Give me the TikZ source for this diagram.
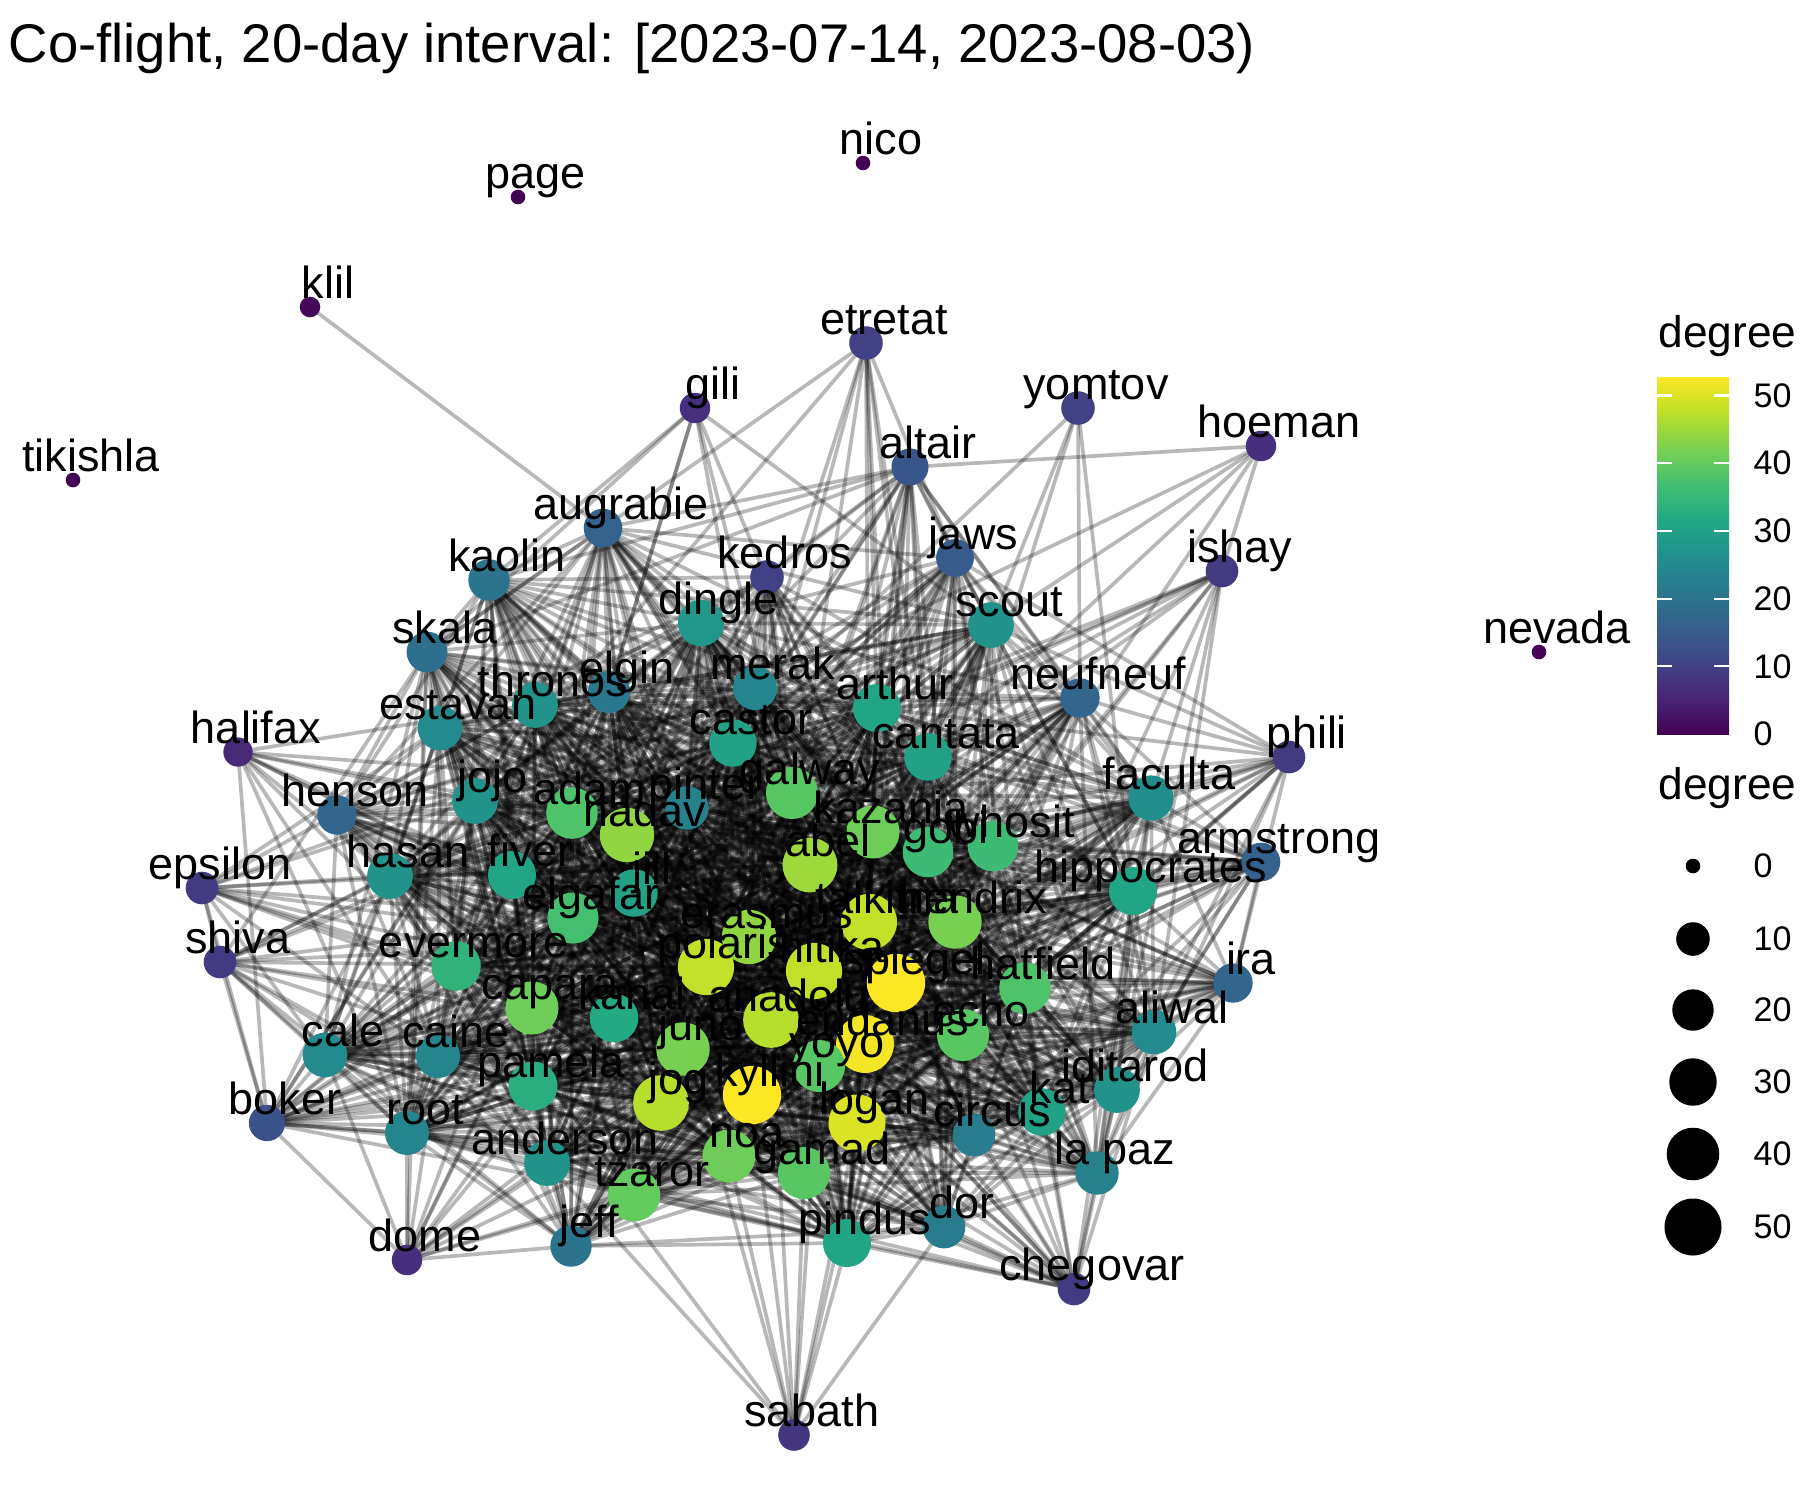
\documentclass[tikz,border=0pt]{standalone}
\usepackage{fontspec}
\setmainfont{Liberation Sans}
\usetikzlibrary{calc}
\pgfdeclarelayer{edges}
\pgfsetlayers{edges,main}
\definecolor{vir0}{HTML}{440154}
\definecolor{vir1}{HTML}{482576}
\definecolor{vir2}{HTML}{414487}
\definecolor{vir3}{HTML}{35608D}
\definecolor{vir4}{HTML}{2A788E}
\definecolor{vir5}{HTML}{21908C}
\definecolor{vir6}{HTML}{22A884}
\definecolor{vir7}{HTML}{43BF71}
\definecolor{vir8}{HTML}{7AD151}
\definecolor{vir9}{HTML}{BBDF27}
\definecolor{vir10}{HTML}{FDE725}
\tikzset{
  vert/.style={circle, inner sep=0pt, outer sep=0pt, draw=none},
  vlabel/.style={anchor=base, inner sep=0pt, font=\fontsize{12.8}{15}\selectfont},
  link/.style={line width=1.05pt, draw=black, draw opacity=0.28},
  titletext/.style={anchor=base west, inner sep=0pt, font=\fontsize{15.5}{18}\selectfont},
  legtitle/.style={anchor=base west, inner sep=0pt, font=\fontsize{12.6}{15}\selectfont},
  legtext/.style={anchor=west, inner sep=0pt, font=\fontsize{9.7}{12}\selectfont},
  tickmark/.style={draw=white, line width=0.6pt},
  legdot/.style={circle, inner sep=0pt, outer sep=0pt, fill=black, draw=none},
}
\def\nodelist{nico/nico/863/163/0,
page/page/518/197/0,
klil/klil/310/307/1,
tikishla/tikishla/73/480/0,
nevada/nevada/1539/652/0,
etretat/etretat/866/343/10,
gili/gili/695/408/7,
yomtov/yomtov/1078/408/10,
hoeman/hoeman/1261/446/7,
altair/altair/910/467/14,
augrabie/augrabie/603/528/16,
kaolin/kaolin/489/580/20,
kedros/kedros/767/577/10,
jaws/jaws/955/558/15,
ishay/ishay/1222/571/9,
dingle/dingle/701/623/28,
scout/scout/991/625/27,
skala/skala/427/652/19,
elgin/elgin/609/692/21,
merak/merak/755/688/24,
thronos/thronos/535/705/27,
arthur/arthur/877/708/31,
estavan/estavan/440/728/25,
neufneuf/neufneuf/1080/698/17,
castor/castor/733/743/30,
cantata/cantata/928/757/30,
halifax/halifax/238/752/6,
phili/phili/1289/757/9,
jojo/jojo/475/801/27,
adam/adam/572/813/38,
pinter/pinter/687/808/23,
nadav/nadav/627/835/44,
galway/galway/792/793/39,
kazania/kazania/873/832/41,
gobi/gobi/928/852/36,
whosit/whosit/993/846/36,
faculta/faculta/1151/798/26,
henson/henson/337/815/17,
abel/abel/810/865/45,
armstrong/armstrong/1261/862/16,
epsilon/epsilon/202/888/9,
hasan/hasan/390/876/27,
fiver/fiver/512/875/31,
jill/jill/634/893/30,
elgafar/elgafar/573/918/37,
erasmus/erasmus/749/937/44,
talkitna/talkitna/869/922/48,
hendrix/hendrix/955/922/42,
hippocrates/hippocrates/1133/891/31,
shiva/shiva/220/962/9,
evermore/evermore/456/966/34,
polaris/polaris/706/967/48,
nitika/nitika/814/971/48,
spiegel/spiegel/896/983/53,
hatfield/hatfield/1025/988/38,
ira/ira/1233/983/17,
capara/capara/532/1008/41,
kanai/kanai/614/1018/32,
anadolu/anadolu/771/1020/47,
echo/echo/963/1035/39,
aliwal/aliwal/1154/1032/25,
cale/cale/325/1055/25,
caine/caine/438/1056/24,
juno/juno/683/1049/42,
eridanus/eridanus/865/1044/52,
yoyo/yoyo/819/1066/39,
pamela/pamela/533/1086/33,
jog/jog/661/1103/47,
kyllini/kyllini/752/1095/53,
iditarod/iditarod/1117/1090/27,
kat/kat/1042/1112/30,
logan/logan/857/1123/50,
boker/boker/267/1123/13,
root/root/407/1133/24,
circus/circus/974/1135/22,
anderson/anderson/547/1163/27,
noa/noa/729/1156/41,
gamad/gamad/804/1173/39,
lapaz/la paz/1097/1173/23,
tzaror/tzaror/634/1195/40,
pindus/pindus/847/1243/31,
dor/dor/944/1227/22,
jeff/jeff/571/1246/20,
dome/dome/407/1260/7,
chegovar/chegovar/1074/1289/9,
sabath/sabath/794/1435/8}
\begin{document}
\begin{tikzpicture}
\useasboundingbox (0,0) rectangle (18,-15);
% title
\node[titletext] (title) at (0.08,-0.62) {Co-flight, 20-day interval: [2023-07-14, 2023-08-03)};
% vertices
\foreach \id/\lab/\px/\py/\dg [count=\i] in \nodelist {
  \pgfmathsetmacro\vt{min(\dg/52.7,1)*10}
  \pgfmathtruncatemacro\vk{min(floor(\vt),9)}
  \pgfmathtruncatemacro\vkk{\vk+1}
  \pgfmathtruncatemacro\vf{round((\vt-\vk)*100)}
  \colorlet{nodecol}{vir\vkk!\vf!vir\vk}
  \pgfmathsetmacro\vd{2*(7.3+3*sqrt(\dg))/100}
  \node[vert, fill=nodecol, minimum size=\vd cm] (\id) at (\px/100,-\py/100) {};
  \expandafter\xdef\csname nid\i\endcsname{\id}
  \expandafter\xdef\csname nx\i\endcsname{\px}
  \expandafter\xdef\csname ny\i\endcsname{\py}
  \expandafter\xdef\csname nd\i\endcsname{\dg}
  \expandafter\xdef\csname nl\i\endcsname{\lab}
}
% edges
\pgfmathsetseed{12345}
\begin{pgfonlayer}{edges}
\draw[link] (klil.center) -- (augrabie.center);
\foreach \i in {1,...,85} {
  \edef\ax{\csname nx\i\endcsname}\edef\ay{\csname ny\i\endcsname}\edef\ad{\csname nd\i\endcsname}
  \ifnum\i=3 \def\ad{0}\fi
  \edef\an{\csname nid\i\endcsname}
  \pgfmathtruncatemacro\ja{\i+1}
  \foreach \j in {\ja,...,86} {
    \edef\bx{\csname nx\j\endcsname}\edef\by{\csname ny\j\endcsname}\edef\bd{\csname nd\j\endcsname}
    \edef\bn{\csname nid\j\endcsname}
    \pgfmathsetmacro\pp{0.0095*\ad*\bd*exp(-veclen((\ax-\bx)/100,(\ay-\by)/100)/1.9)}
    \pgfmathsetmacro\uu{rnd}
    \ifdim\uu pt<\pp pt
      \draw[link] (\an.center) -- (\bn.center);
    \fi
  }
}
\end{pgfonlayer}
% labels
\foreach \i in {1,...,86} {
  \edef\an{\csname nid\i\endcsname}
  \edef\labtext{\csname nl\i\endcsname}
  \node[vlabel] (lab-\an) at ($(\an.center)+(0.18,0.09)$) {\labtext};
}
% colour legend
\node[legtitle] (legcol) at (16.58,-3.47) {degree};
\foreach \k in {0,...,9} {
  \pgfmathtruncatemacro\kk{\k+1}
  \pgfmathsetmacro\ya{-7.34+\k*0.357}
  \pgfmathsetmacro\yb{-7.34+\kk*0.357+(\k<9)*0.006}
  \shade[bottom color=vir\k, top color=vir\kk] (16.57,\ya) rectangle (17.29,\yb);
}
\foreach \v in {10,20,30,40,50} {
  \pgfmathsetmacro\ty{-7.34+\v*0.0677}
  \draw[tickmark] (16.57,\ty) -- (16.72,\ty);
  \draw[tickmark] (17.14,\ty) -- (17.29,\ty);
}
\foreach \v in {0,10,20,30,40,50} {
  \pgfmathsetmacro\ty{-7.34+\v*0.0677}
  \node[legtext] (coltick\v) at (17.53,\ty) {\v};
}
% size legend
\node[legtitle] (legsize) at (16.58,-7.99) {degree};
\foreach \v/\yy in {0/8.66,10/9.39,20/10.10,30/10.82,40/11.54,50/12.27} {
  \pgfmathsetmacro\sd{2*(7.3+3*sqrt(\v))/100}
  \node[legdot, minimum size=\sd cm] (sdot\v) at (16.93,-\yy) {};
  \node[legtext] (slab\v) at (17.53,-\yy) {\v};
}
\end{tikzpicture}
\end{document}
